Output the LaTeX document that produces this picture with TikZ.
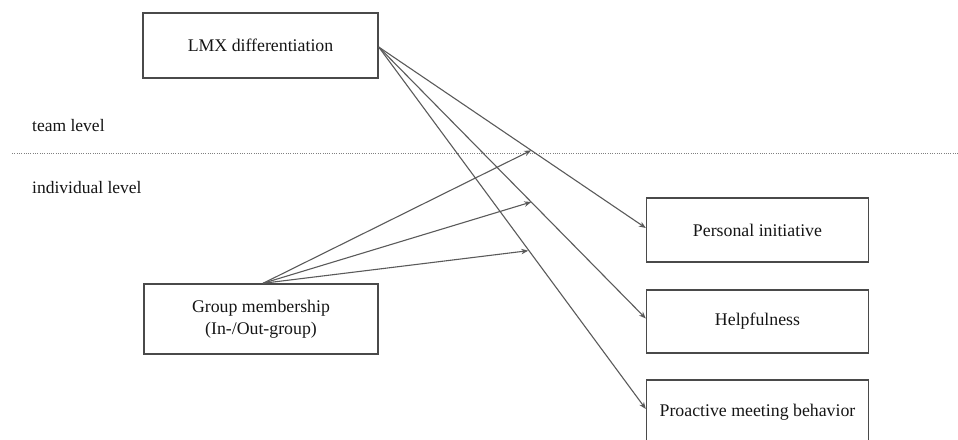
\documentclass[tikz,border=0pt]{standalone}
\usepackage{fontspec}
\setmainfont{Liberation Serif}
\usetikzlibrary{arrows.meta}
\definecolor{edgegray}{HTML}{5A5A5A}
\definecolor{boxgray}{HTML}{4A4A4A}
\definecolor{txt}{HTML}{151515}
\begin{document}
\begin{tikzpicture}[x=1pt,y=-1pt,
  var/.style={draw=boxgray,line width=1.4pt,rectangle,inner sep=0pt,text=txt,
    font=\fontsize{17.8}{22}\selectfont,align=center},
  link/.style={draw=edgegray,line width=1.1pt,-{Stealth[length=7pt,width=5.5pt]}},
  lvl/.style={anchor=west,inner sep=0pt,text=txt,font=\fontsize{17.5}{21}\selectfont}]
\useasboundingbox (0,0) rectangle (958,439);
\node[var,minimum width=235pt,minimum height=65pt] (lmx) at (260.5,45.5) {LMX differentiation};
\node[var,minimum width=234pt,minimum height=70pt] (grp) at (261,319) {Group membership\\(In-/Out-group)};
\node[var,minimum width=222pt,minimum height=64pt] (pi) at (757.5,230) {Personal initiative};
\node[var,minimum width=222pt,minimum height=63pt] (hf) at (757.5,321.5) {Helpfulness};
\node[var,minimum width=222pt,minimum height=64pt] (pm) at (757.5,412) {Proactive meeting behavior};
\node[lvl] (team) at (32,126) {team level};
\node[lvl] (indiv) at (32,188) {individual level};
\coordinate (dl) at (12,153);
\coordinate (dr) at (958,153);
\draw[gray,line width=1pt,dash pattern=on 1pt off 1.3pt] (dl) -- (dr);
\coordinate (s) at ([yshift=-1.5pt]lmx.east);
\draw[link] (s) -- coordinate[pos=0.571] (m1) ([yshift=2pt]pi.west);
\draw[link] (s) -- coordinate[pos=0.571] (m2) ([yshift=3pt]hf.west);
\draw[link] (s) -- coordinate[pos=0.571] (m3) ([yshift=3pt]pm.west);
\coordinate (g) at ([xshift=2pt]grp.north);
\draw[link] (g) -- (m1);
\draw[link] (g) -- (m2);
\draw[link] (g) -- ([xshift=-3pt,yshift=3pt]m3);
\end{tikzpicture}
\end{document}
